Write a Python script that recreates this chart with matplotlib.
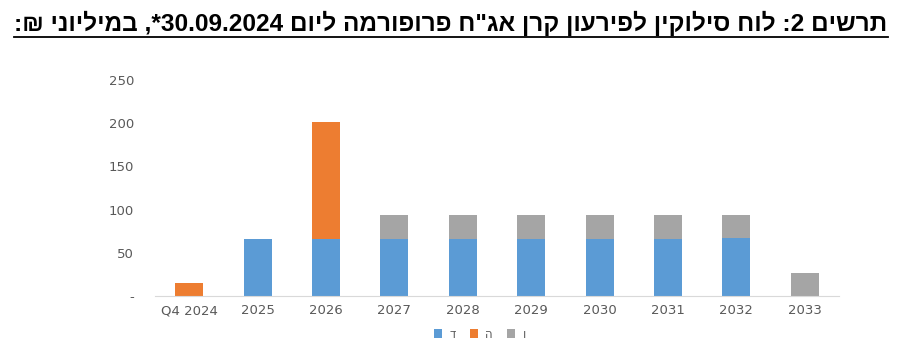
import matplotlib
matplotlib.use("Agg")
import matplotlib.pyplot as plt
from matplotlib.patches import Patch
from matplotlib.lines import Line2D
import numpy as np
import re

categories = ["Q4 2024", "2025", "2026", "2027", "2028", "2029", "2030", "2031", "2032", "2033"]
series_names = ["ד", "ה", "ו"]
series_d = [0, 66, 66, 66, 66, 66, 66, 66, 67, 0]
series_h = [15, 0, 135, 0, 0, 0, 0, 0, 0, 0]
series_v = [0, 0, 0, 28, 28, 28, 28, 28, 27, 27]
yticks = [0, 50, 100, 150, 200, 250]
ytick_labels = ["-", "50", "100", "150", "200", "250"]
colors = ["#5B9BD5", "#ED7D31", "#A5A5A5"]

title_logical = 'תרשים 2: לוח סילוקין לפירעון קרן אג"ח פרופורמה ליום 30.09.2024*, במיליוני ₪:'


def visual_rtl(s):
    r = s[::-1]
    return re.sub(r'[0-9][0-9.]*[0-9]|[0-9]', lambda m: m.group(0)[::-1], r)


title = visual_rtl(title_logical)

fig = plt.figure(figsize=(8.98, 3.64), dpi=100)
ax = fig.add_axes([155/898, 1-296/364, 684/898, (296-80)/364])

x = np.arange(len(categories))
w = 0.41
d = np.array(series_d); h = np.array(series_h); v = np.array(series_v)
ax.bar(x, d, w, color=colors[0], zorder=2)
ax.bar(x, h, w, bottom=d, color=colors[1], zorder=2)
ax.bar(x, v, w, bottom=d + h, color=colors[2], zorder=2)

ax.set_xlim(-0.5, len(categories) - 0.5)
ax.set_ylim(0, 250)
ax.set_yticks(yticks)
ax.set_yticklabels(ytick_labels)
ax.set_xticks(x)
ax.set_xticklabels(categories)
for s in ["top", "right", "left"]:
    ax.spines[s].set_visible(False)
ax.spines["bottom"].set_color("#D9D9D9")
ax.tick_params(axis="both", length=0, colors="#595959", labelsize=9.5)
ax.tick_params(axis="y", pad=15)
ax.tick_params(axis="x", pad=6)

handles = [Patch(facecolor=c) for c in colors]
fig.legend(handles, series_names, loc="center", bbox_to_anchor=(480/898, 1-334/364),
           ncol=3, frameon=False, fontsize=8.5, handlelength=0.7, handleheight=0.7,
           handletextpad=0.6, columnspacing=1.2, labelcolor="#595959")

t = fig.text(451/898, 1-23/364, title, ha="center", va="center", fontsize=17.6,
             fontweight="bold", family=["Liberation Sans", "DejaVu Sans"])
fig.canvas.draw()
bb = t.get_window_extent()
inv = fig.transFigure.inverted()
(x0, y0), (x1, y1) = inv.transform([(bb.x0, bb.y0), (bb.x1, bb.y1)])
fig.add_artist(Line2D([x0, x1], [1-37/364, 1-37/364], transform=fig.transFigure,
                      color="black", lw=1.3))

fig.savefig("out.png", dpi=100)
